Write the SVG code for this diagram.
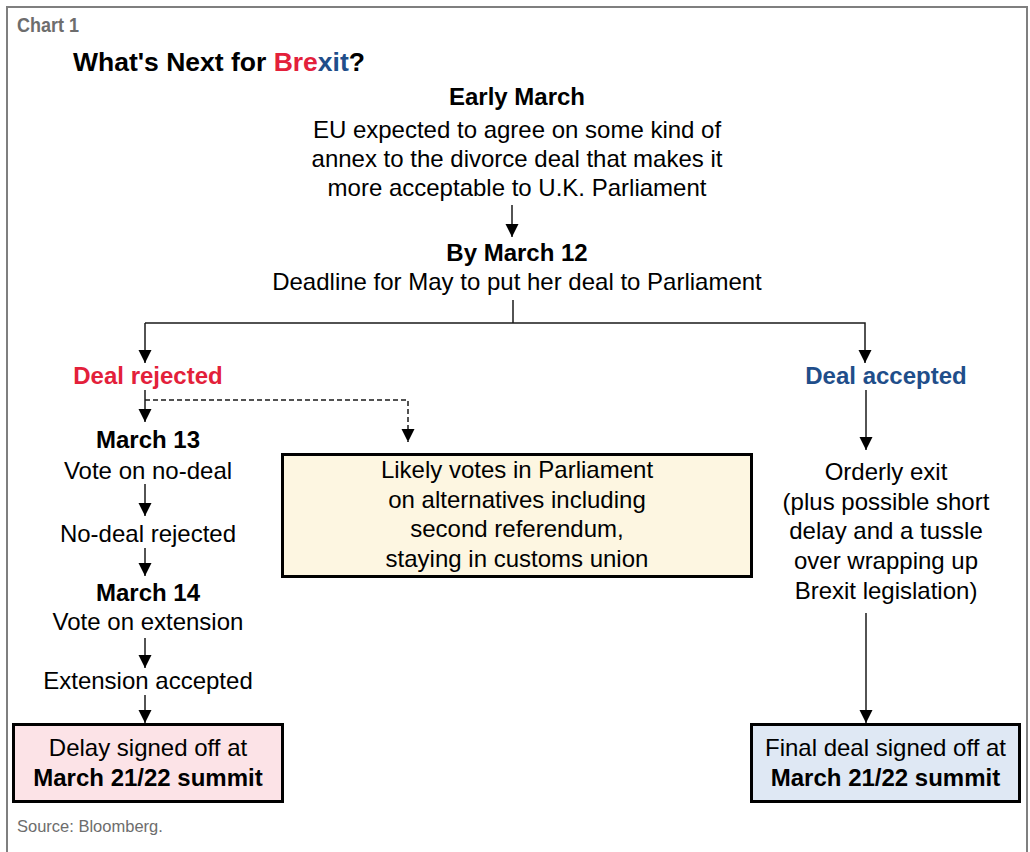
<svg xmlns="http://www.w3.org/2000/svg" width="1030" height="852" viewBox="0 0 1030 852">
<defs>
<style>
text{font-family:"Liberation Sans",Arial,sans-serif;fill:#000;}
.t{font-size:24px;text-anchor:middle;}
.b{font-weight:bold;}
.red{fill:#E3203A;}
.blue{fill:#1F4E8A;}
.conn{stroke:#1a1a1a;stroke-width:1.5;fill:none;}
.dash{stroke-dasharray:5 3;}
.box{stroke:#000;stroke-width:3;}
</style>
<marker id="ah" markerUnits="userSpaceOnUse" markerWidth="14" markerHeight="14" refX="13" refY="7" orient="auto" viewBox="0 0 14 14">
<path d="M0,0.5 L13,7 L0,13.5 z" fill="#000"/>
</marker>
</defs>
<rect x="0" y="0" width="1030" height="852" fill="#fff"/>
<rect x="7" y="7" width="1020" height="870" fill="none" stroke="#7f7f7f" stroke-width="2"/>
<text x="17" y="32" font-size="21" font-weight="bold" style="fill:#6d6d6d" textLength="62" lengthAdjust="spacingAndGlyphs">Chart 1</text>
<text x="73" y="71" font-size="26.5" font-weight="bold">What's Next for <tspan class="red">Bre</tspan><tspan class="blue">xit</tspan>?</text>

<g id="connectors">
<line class="conn" x1="512" y1="205" x2="512" y2="237" marker-end="url(#ah)"/>
<polyline class="conn" points="513,300 513,323"/>
<polyline class="conn" points="145,323 865,323 865,363" marker-end="url(#ah)"/>
<line class="conn" x1="145" y1="323" x2="145" y2="363" marker-end="url(#ah)"/>
<line class="conn" x1="145" y1="390" x2="145" y2="422" marker-end="url(#ah)"/>
<polyline class="conn dash" points="145,400 408,400 408,442" marker-end="url(#ah)"/>
<line class="conn" x1="145" y1="484" x2="145" y2="516" marker-end="url(#ah)"/>
<line class="conn" x1="145" y1="548" x2="145" y2="576" marker-end="url(#ah)"/>
<line class="conn" x1="145" y1="638" x2="145" y2="668" marker-end="url(#ah)"/>
<line class="conn" x1="145" y1="695" x2="145" y2="723" marker-end="url(#ah)"/>
<line class="conn" x1="866" y1="390" x2="866" y2="450" marker-end="url(#ah)"/>
<line class="conn" x1="866" y1="613" x2="866" y2="723" marker-end="url(#ah)"/>
</g>

<g id="early-march">
<text class="t b" x="517" y="105">Early March</text>
<text class="t" x="517" y="138">EU expected to agree on some kind of</text>
<text class="t" x="517" y="167">annex to the divorce deal that makes it</text>
<text class="t" x="517" y="196">more acceptable to U.K. Parliament</text>
</g>
<g id="by-march-12">
<text class="t b" x="517" y="261">By March 12</text>
<text class="t" x="517" y="290">Deadline for May to put her deal to Parliament</text>
</g>
<g id="deal-rejected">
<text class="t b red" x="148" y="384">Deal rejected</text>
</g>
<g id="deal-accepted">
<text class="t b blue" x="886" y="384">Deal accepted</text>
</g>
<g id="march-13">
<text class="t b" x="148" y="448">March 13</text>
<text class="t" x="148" y="479">Vote on no-deal</text>
</g>
<g id="no-deal-rejected">
<text class="t" x="148" y="542">No-deal rejected</text>
</g>
<g id="march-14">
<text class="t b" x="148" y="601">March 14</text>
<text class="t" x="148" y="630">Vote on extension</text>
</g>
<g id="extension-accepted">
<text class="t" x="148" y="689">Extension accepted</text>
</g>
<g id="delay-box">
<rect class="box" x="13.5" y="724.5" width="269" height="77" fill="#FCE3E7"/>
<text class="t" x="148" y="756">Delay signed off at</text>
<text class="t b" x="148" y="786">March 21/22 summit</text>
</g>
<g id="alternatives-box">
<rect class="box" x="282.5" y="454.5" width="469" height="122" fill="#FDF6E1"/>
<text class="t" x="517" y="478">Likely votes in Parliament</text>
<text class="t" x="517" y="508">on alternatives including</text>
<text class="t" x="517" y="537">second referendum,</text>
<text class="t" x="517" y="567">staying in customs union</text>
</g>
<g id="orderly-exit">
<text class="t" x="886" y="480">Orderly exit</text>
<text class="t" x="886" y="510">(plus possible short</text>
<text class="t" x="886" y="539">delay and a tussle</text>
<text class="t" x="886" y="569">over wrapping up</text>
<text class="t" x="886" y="599">Brexit legislation)</text>
</g>
<g id="final-deal-box">
<rect class="box" x="751.5" y="724.5" width="268" height="77" fill="#DFE8F4"/>
<text class="t" x="885.5" y="756">Final deal signed off at</text>
<text class="t b" x="885.5" y="786">March 21/22 summit</text>
</g>
<text x="17" y="832" font-size="16.5" style="fill:#6d6d6d">Source: Bloomberg.</text>
</svg>
